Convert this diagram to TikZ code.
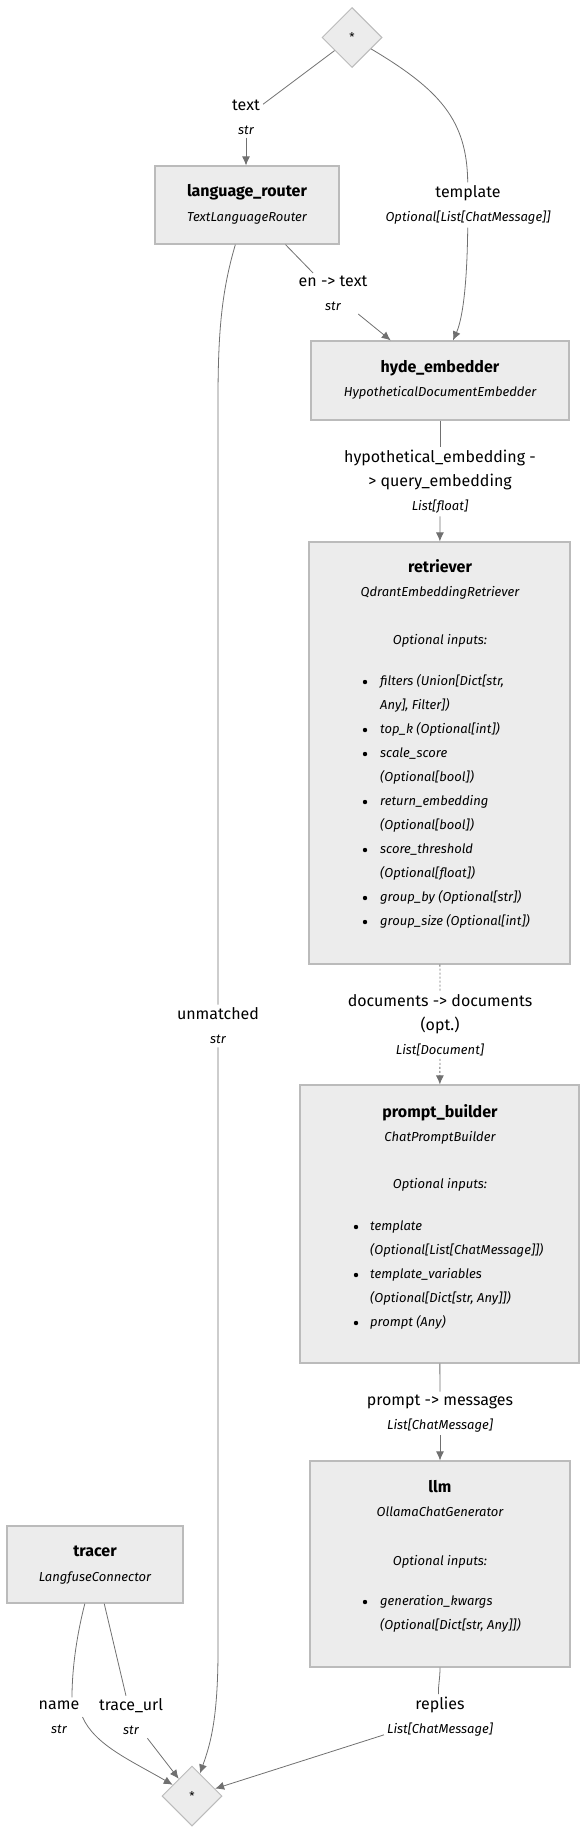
\documentclass[tikz,border=0pt]{standalone}
\usepackage{fontspec}
\setmainfont{Fira Sans}
\usetikzlibrary{shapes.geometric,arrows.meta}

\definecolor{boxfill}{HTML}{ECECEC}
\definecolor{boxline}{HTML}{BBBBBB}
\definecolor{wirecol}{HTML}{707070}

\newcommand{\ptype}[1]{{\fontsize{13}{24}\selectfont\itshape #1}}

\begin{document}
\begin{tikzpicture}[x=1pt, y=-1pt, >={Latex[length=9pt,width=8pt]},
        comp/.style={rectangle, draw=boxline, fill=boxfill, line width=1.2pt, inner sep=0pt},
        junction/.style={diamond, draw=boxline, fill=boxfill, line width=1pt, minimum width=60pt, minimum height=60pt, inner sep=0pt, font=\fontsize{12}{14}\selectfont},
        elbl/.style={align=center, inner xsep=3pt, inner ysep=3pt, font=\fontsize{16}{24}\selectfont},
        wire/.style={draw=wirecol, line width=0.8pt},
        ttl/.style={inner sep=0pt, text height=12pt, text depth=4pt, font=\fontsize{16}{19}\selectfont\bfseries},
        sub/.style={inner sep=0pt, text height=9pt, text depth=3pt, font=\fontsize{13}{15}\selectfont\itshape},
        item/.style={anchor=west, inner sep=0pt, text height=9pt, text depth=3pt, font=\fontsize{13}{15}\selectfont\itshape}]
    \useasboundingbox (0,0) rectangle (588,1834);

    % 组件方框
    \node[junction] (top) at (352,37.5) {*};
    \node[junction] (bot) at (192,1796) {*};

    \node[comp, minimum width=184pt, minimum height=78pt] (lr) at (247,205) {};
    \node[ttl] (lr-t) at (247,192) {language\_router};
    \node[sub] (lr-s) at (247,218) {TextLanguageRouter};

    \node[comp, minimum width=258pt, minimum height=79pt] (hyde) at (440,380.5) {};
    \node[ttl] (hyde-t) at (440,368) {hyde\_embedder};
    \node[sub] (hyde-s) at (440,393) {HypotheticalDocumentEmbedder};

    \node[comp, minimum width=261pt, minimum height=422pt] (ret) at (439.5,753) {};
    \node[ttl] (ret-t) at (440,568) {retriever};
    \node[sub] (ret-s) at (440,593) {QdrantEmbeddingRetriever};
    \node[sub] (ret-o) at (440,641) {Optional inputs:};

    \node[comp, minimum width=279pt, minimum height=278pt] (pb) at (439.5,1224) {};
    \node[ttl] (pb-t) at (440,1113) {prompt\_builder};
    \node[sub] (pb-s) at (440,1138) {ChatPromptBuilder};
    \node[sub] (pb-o) at (440,1185) {Optional inputs:};

    \node[comp, minimum width=260pt, minimum height=206pt] (llm) at (440,1564) {};
    \node[ttl] (llm-t) at (440,1488) {llm};
    \node[sub] (llm-s) at (440,1513) {OllamaChatGenerator};
    \node[sub] (llm-o) at (440,1562) {Optional inputs:};

    \node[comp, minimum width=176pt, minimum height=77pt] (tracer) at (95,1564.5) {};
    \node[ttl] (tracer-t) at (95,1552) {tracer};
    \node[sub] (tracer-s) at (95,1578) {LangfuseConnector};

    % 可选输入列表
    \foreach \yy/\bul/\txt [count=\i] in {682/1/{filters (Union[Dict[str,}, 706/0/{Any], Filter])},
            730/1/{top\_k (Optional[int])}, 754/1/{scale\_score}, 778/0/{(Optional[bool])},
            802/1/{return\_embedding}, 826/0/{(Optional[bool])}, 850/1/{score\_threshold},
            874/0/{(Optional[float])}, 898/1/{group\_by (Optional[str])}, 922/1/{group\_size (Optional[int])}}
        {
            \node[item] (ret-\i) at (380,\yy) {\txt};
            \ifnum\bul=1 \fill (365,\yy) circle (2.2pt);\fi
        }
    \foreach \yy/\bul/\txt [count=\i] in {1227/1/{template}, 1251/0/{(Optional[List[ChatMessage]])},
            1275/1/{template\_variables}, 1299/0/{(Optional[Dict[str, Any]])}, 1323/1/{prompt (Any)}}
        {
            \node[item] (pb-\i) at (370,\yy) {\txt};
            \ifnum\bul=1 \fill (356,\yy) circle (2.2pt);\fi
        }
    \foreach \yy/\bul/\txt [count=\i] in {1602/1/{generation\_kwargs}, 1626/0/{(Optional[Dict[str, Any]])}}
        {
            \node[item] (llm-\i) at (380,\yy) {\txt};
            \ifnum\bul=1 \fill (365,\yy) circle (2.2pt);\fi
        }

    % 连线标签
    \node[elbl] (l_text) at (246,117) {text\\\ptype{str}};
    \node[elbl] (l_tpl) at (468,205) {template\\\ptype{Optional[List[ChatMessage]]}};
    \node[elbl] (l_en) at (333,293.5) {en -> text\\\ptype{str}};
    \node[elbl] (l_hyp) at (440,481.5) {hypothetical\_embedding -\\> query\_embedding\\\ptype{List[float]}};
    \node[elbl] (l_doc) at (440,1025) {documents -> documents\\(opt.)\\\ptype{List[Document]}};
    \node[elbl] (l_unm) at (218,1026) {unmatched\\\ptype{str}};
    \node[elbl] (l_pm) at (440,1413.5) {prompt -> messages\\\ptype{List[ChatMessage]}};
    \node[elbl] (l_rep) at (440,1717) {replies\\\ptype{List[ChatMessage]}};
    \node[elbl] (l_name) at (59,1717) {name\\\ptype{str}};
    \node[elbl] (l_url) at (131,1717) {trace\_url\\\ptype{str}};

    % 连线
    \draw[wire] (top) -- (l_text);
    \draw[wire,->] (l_text) -- (l_text |- lr.north);
    \draw[wire] (top) .. controls (440,90) and (467,120) .. (l_tpl);
    \draw[wire,->] (l_tpl) .. controls (467,290) and (462,320) .. ([xshift=13pt]hyde.north);
    \draw[wire] (lr) -- (l_en);
    \draw[wire,->] (l_en) -- (hyde);
    \draw[wire] (lr) .. controls (222,290) and (218,330) .. (218,400) -- (l_unm);
    \draw[wire,->] (l_unm) -- (218,1650) .. controls (218,1720) and (210,1745) .. (bot);
    \draw[wire] (hyde) -- (l_hyp);
    \draw[wire,->] (l_hyp) -- (ret);
    \draw[wire,dash pattern=on 2pt off 2pt] (ret) -- (l_doc);
    \draw[wire,dash pattern=on 2pt off 2pt,->] (l_doc) -- (pb);
    \draw[wire] (pb) -- (l_pm);
    \draw[wire,->] (l_pm) -- (llm);
    \draw[wire] (llm) .. controls (440,1680) and (438,1685) .. (l_rep);
    \draw[wire,->] (l_rep) -- (bot);
    \draw[wire] (tracer) .. controls (78,1630) and (72,1665) .. ([xshift=13pt]l_name.north);
    \draw[wire,->] (l_name.east) .. controls (95,1745) and (130,1760) .. (bot);
    \draw[wire] (tracer) -- (l_url);
    \draw[wire,->] (l_url) -- (bot);
\end{tikzpicture}
\end{document}
